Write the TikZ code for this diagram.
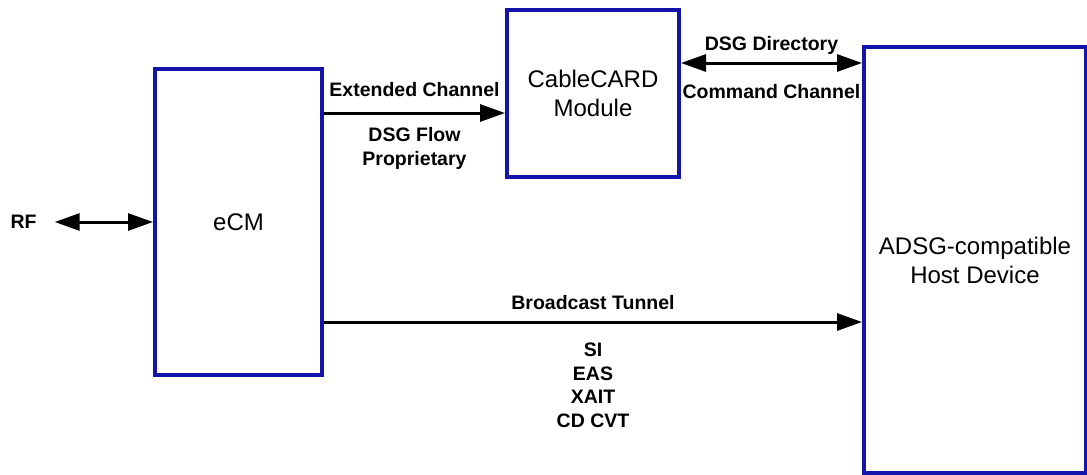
\documentclass[tikz,border=0pt]{standalone}
\usepackage{fontspec}
\setmainfont{Liberation Sans}
\usetikzlibrary{arrows.meta}
\definecolor{boxblue}{RGB}{20,20,170}

\begin{document}
\begin{tikzpicture}[x=1pt, y=-1pt,
  blk/.style={draw=boxblue, line width=4pt, inner sep=0pt, align=center,
    font=\fontsize{24}{29}\selectfont},
  lbl/.style={inner sep=0pt, align=center,
    font=\bfseries\fontsize{19.5}{23.5}\selectfont},
  arr/.style={line width=3pt, -{Triangle[length=25pt, width=17pt]}},
  dbl/.style={line width=3pt,
    {Triangle[length=25pt, width=17pt]}-{Triangle[length=25pt, width=17pt]}}]
\useasboundingbox (0,0) rectangle (1087,474);
% the boxes
\node[blk, minimum width=167pt, minimum height=306pt] (ecm) at (238.5,222) {eCM};
\node[blk, minimum width=172pt, minimum height=167pt] (card) at (593,93.5) {CableCARD\\Module};
\node[blk, minimum width=222pt, minimum height=426pt] (host) at (975,260) {ADSG-compatible\\Host Device};
% RF input
\node[lbl] (rf) at (23.5,222) {RF};
\draw[dbl] ([xshift=18pt]rf.east) -- (ecm.west);
% extended channel
\coordinate (ext) at ([yshift=-19.5pt]card.west);
\draw[arr] (ecm.east |- ext) -- (ext)
  node[lbl, midway, anchor=base, yshift=17pt] (extlbl) {Extended Channel}
  node[lbl, midway, anchor=base, yshift=-52pt] (flowlbl) {DSG Flow\\Proprietary};
% directory and command channel
\coordinate (dir) at ([yshift=30.5pt]card.east);
\draw[dbl] (dir) -- (dir -| host.west)
  node[lbl, midway, anchor=base, yshift=13pt] (dirlbl) {DSG Directory}
  node[lbl, midway, anchor=base, yshift=-35pt] (cmdlbl) {Command Channel};
% broadcast tunnel
\coordinate (tun) at ([yshift=-100pt]ecm.east);
\draw[arr] (tun) -- (tun -| host.west)
  node[lbl, midway, anchor=base, yshift=13pt] (tunlbl) {Broadcast Tunnel}
  node[lbl, midway, anchor=base, yshift=-105pt] (tablbl) {SI\\EAS\\XAIT\\CD CVT};
\end{tikzpicture}
\end{document}
